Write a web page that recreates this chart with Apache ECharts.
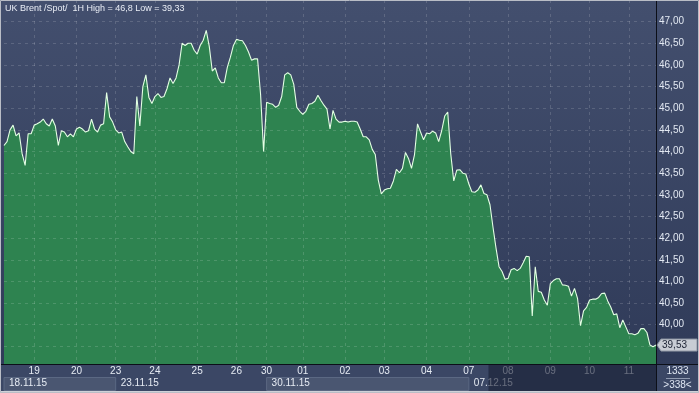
<!DOCTYPE html>
<html><head><meta charset="utf-8">
<script src="https://cdn.jsdelivr.net/npm/echarts@6/dist/echarts.min.js"></script>
<style>
html,body{margin:0;padding:0;}
#c{width:699px;height:393px;background:linear-gradient(#434f6e,#2e3957);}
</style>
</head><body><div id="c"></div>
<script>
const titleText = 'UK Brent /Spot/  1H High = 46,8 Low = 39,33';

// hourly closes
const prices = [
44.14,44.23,44.50,44.61,44.36,44.43,43.95,43.68,44.41,44.41,
44.61,44.64,44.68,44.75,44.64,44.59,44.75,44.59,44.14,44.48,
44.45,44.34,44.41,44.34,44.52,44.56,44.52,44.45,44.48,44.75,
44.52,44.45,44.61,44.64,45.36,44.80,44.68,44.50,44.43,44.45,
44.23,44.11,44.00,43.95,45.27,44.59,45.50,45.77,45.25,45.11,
45.27,45.34,45.25,45.27,45.45,45.70,45.57,45.70,46.00,46.50,
46.45,46.50,46.50,46.34,46.25,46.45,46.57,46.80,46.43,45.86,
45.93,45.70,45.59,45.59,45.95,46.18,46.45,46.59,46.57,46.56,
46.45,46.30,46.11,46.14,46.14,45.32,44.00,45.14,45.11,45.09,
45.02,45.07,45.27,45.77,45.82,45.77,45.55,45.02,44.93,44.86,
44.93,45.09,45.11,45.16,45.30,45.18,45.07,44.98,44.52,44.95,
44.75,44.68,44.68,44.70,44.68,44.70,44.70,44.68,44.52,44.34,
44.34,44.27,44.05,43.93,43.34,43.02,43.11,43.14,43.15,43.32,
43.59,43.51,43.61,43.98,43.84,43.61,43.93,44.64,44.45,44.27,
44.43,44.41,44.47,44.43,44.23,44.48,44.82,44.91,43.95,43.32,
43.57,43.58,43.50,43.48,43.25,43.07,43.06,43.11,43.23,43.03,
43.00,42.77,42.25,41.77,41.34,41.23,41.05,41.07,41.27,41.30,
41.25,41.30,41.43,41.58,41.57,40.20,41.34,40.77,40.75,40.57,
40.45,40.95,41.02,41.06,41.06,40.92,40.91,40.89,40.66,40.84,
40.61,39.98,40.32,40.40,40.57,40.59,40.59,40.63,40.72,40.73,
40.55,40.41,40.23,40.25,39.93,40.11,39.95,39.79,39.79,39.77,
39.80,39.91,39.91,39.82,39.53,39.49,39.53
];

const dayLabels = ['19','20','23','24','25','26','30','01','02','03','04','07','08','09','10','11'];
const dayIdx    = [10,24,37,50,64,77,87,99,113,126,140,154,167,181,194,207];
const dateLabels = ['18.11.15','23.11.15','30.11.15','07.12.15'];
const dateIdx    = [0,37,87,154];
const yMin = 39, yMax = 47.5, yStep = 0.5;
const lastPrice = 39.53;
const barCount = '1333';
const visibleBars = '>338<';

const hours = prices.map((_, i) => i);
const FONT = 'Liberation Sans';
const fmt = v => v.toFixed(2).replace('.', ',');

const chart = echarts.init(document.getElementById('c'), null, {renderer: 'canvas'});

const grid = {left: 4, right: 43, top: -6, bottom: 25, containLabel: false};

const option = {
  animation: false,
  backgroundColor: 'transparent',
  grid: grid,
  xAxis: [
    { type: 'category', data: hours, boundaryGap: false, z: 3,
      axisLine: {show: false}, axisTick: {show: false}, axisLabel: {show: false},
      splitLine: {show: true, interval: (i) => dayIdx.includes(i),
        lineStyle: {color: 'rgba(255,255,255,0.15)', type: [3, 4], width: 1}} },
    { type: 'category', data: hours, boundaryGap: false, z: 10, position: 'bottom', offset: -4,
      axisLine: {show: false}, axisTick: {show: false}, splitLine: {show: false},
      axisLabel: {show: true, margin: 2, interval: (i) => dayIdx.includes(i),
        formatter: (v, i) => { const k = dayIdx.indexOf(i); return k >= 0 ? dayLabels[k] : ''; },
        color: '#e6ebf3', fontFamily: FONT, fontSize: 10} },
    { type: 'category', data: hours, boundaryGap: false, z: 10, position: 'bottom', offset: 8,
      axisLine: {show: false}, axisTick: {show: false}, splitLine: {show: false},
      axisLabel: {show: true, margin: 2, align: 'left', padding: [0, 0, 0, 5],
        interval: (i) => dateIdx.includes(i),
        formatter: (v, i) => { const k = dateIdx.indexOf(i); return k >= 0 ? dateLabels[k] : ''; },
        color: '#e6ebf3', fontFamily: FONT, fontSize: 10} }
  ],
  yAxis: [
    { type: 'value', min: yMin, max: yMax, interval: yStep, position: 'right', z: 3,
      axisLine: {show: false}, axisTick: {show: false}, axisLabel: {show: false},
      splitLine: {show: true, showMinLine: false, showMaxLine: false,
        lineStyle: {color: 'rgba(255,255,255,0.15)', type: [3, 4], width: 1}} },
    { type: 'value', min: yMin, max: yMax, interval: yStep, position: 'right', z: 10,
      axisLine: {show: false}, axisTick: {show: false}, splitLine: {show: false},
      axisLabel: {show: true, margin: 3, showMinLabel: false, showMaxLabel: false,
        formatter: fmt, color: '#e2e8f2', fontFamily: FONT, fontSize: 10} }
  ],
  series: [{
    type: 'line', data: prices, xAxisIndex: 0, yAxisIndex: 0,
    symbol: 'none', showSymbol: false, z: 2,
    lineStyle: {color: '#e4ffe4', width: 1.1},
    areaStyle: {color: '#2e8350', opacity: 1}
  }]
};
chart.setOption(option);

const px = i => chart.convertToPixel({xAxisIndex: 0}, i);
const yLast = chart.convertToPixel({yAxisIndex: 0}, lastPrice);
const xL = px(0), xR = px(prices.length - 1);
const bandTop = 364;
const W = 699, H = 393;
const dimStart = (px(dayIdx[11]) + px(dayIdx[12])) / 2;

const g = [
  {type: 'rect', z: 5, silent: true, shape: {x: 0, y: bandTop, width: W, height: H - bandTop},
   style: {fill: '#3b4765'}},
  {type: 'rect', z: 6, silent: true, shape: {x: xL, y: 377.5, width: px(dateIdx[1]) - xL, height: 13},
   style: {fill: '#4a5671', stroke: '#5b6883', lineWidth: 1}},
  {type: 'rect', z: 6, silent: true, shape: {x: px(dateIdx[2]), y: 377.5, width: px(dateIdx[3]) - px(dateIdx[2]), height: 13},
   style: {fill: '#4a5671', stroke: '#5b6883', lineWidth: 1}},
  {type: 'rect', z: 12, silent: true, shape: {x: dimStart, y: bandTop + 1, width: xR - dimStart, height: H - bandTop - 3},
   style: {fill: 'rgba(24,31,52,0.62)'}},
  {type: 'line', z: 13, silent: true, shape: {x1: 0, y1: bandTop + 0.5, x2: W, y2: bandTop + 0.5},
   style: {stroke: '#0c0f18', lineWidth: 1}},
  {type: 'line', z: 13, silent: true, shape: {x1: xR + 0.5, y1: 0, x2: xR + 0.5, y2: H},
   style: {stroke: '#0c0f18', lineWidth: 1}},
  {type: 'polygon', z: 20, silent: true,
   shape: {points: [[xR + 1, yLast], [xR + 5, yLast - 6], [W - 2, yLast - 6], [W - 2, yLast + 6], [xR + 5, yLast + 6]]},
   style: {fill: '#c8ccd4', stroke: '#8e95a3', lineWidth: 1}},
  {type: 'text', z: 21, silent: true, x: xR + 6, y: yLast,
   style: {text: fmt(lastPrice), fill: '#1c2233', font: '10px "Liberation Sans"', verticalAlign: 'middle', align: 'left'}},
  {type: 'text', z: 21, silent: true, x: (xR + W) / 2, y: 371,
   style: {text: barCount, fill: '#dfe6f2', font: '10px "Liberation Sans"', verticalAlign: 'middle', align: 'center'}},
  {type: 'line', z: 21, silent: true, shape: {x1: xR + 10, y1: 378.5, x2: W - 9, y2: 378.5},
   style: {stroke: '#8f9ab0', lineWidth: 1}},
  {type: 'text', z: 21, silent: true, x: (xR + W) / 2, y: 385,
   style: {text: visibleBars, fill: '#dfe6f2', font: '10px "Liberation Sans"', verticalAlign: 'middle', align: 'center'}},
  {type: 'text', z: 21, silent: true, x: 5, y: 9,
   style: {text: titleText, fill: '#e9edf5', font: '9px "Liberation Sans"', verticalAlign: 'middle', align: 'left'}},
  {type: 'rect', z: 30, silent: true, shape: {x: 0, y: H - 2, width: W, height: 2}, style: {fill: '#cfd2d8'}},
  {type: 'rect', z: 30, silent: true, shape: {x: 0.5, y: 0.5, width: W - 1, height: H - 1},
   style: {fill: 'none', stroke: '#b9bdc6', lineWidth: 1}}
];
chart.setOption({graphic: g});
</script>
</body></html>
